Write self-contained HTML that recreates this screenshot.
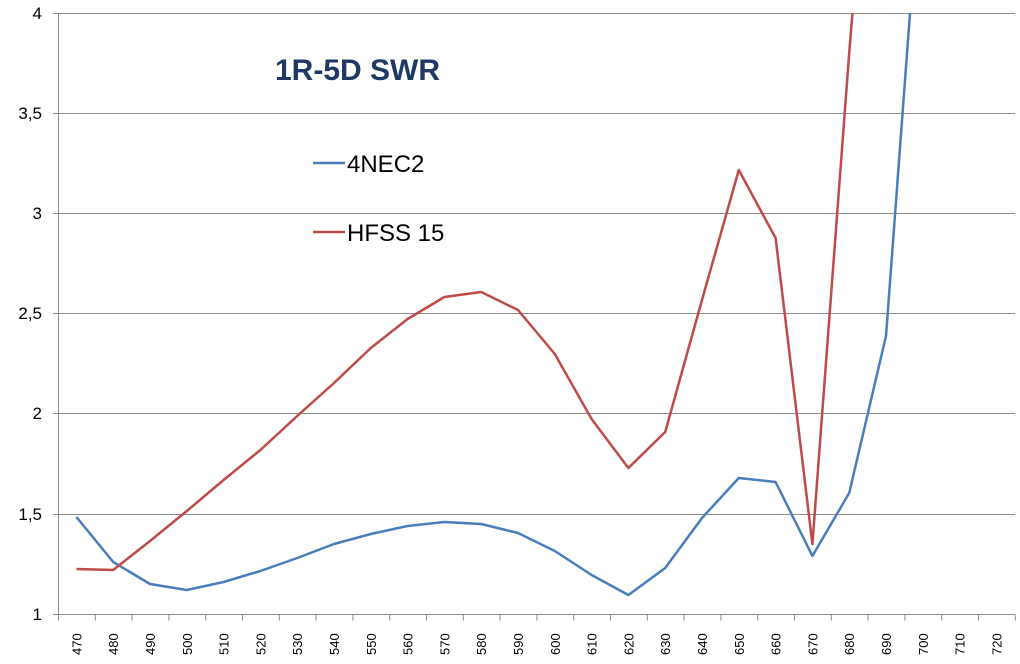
<!DOCTYPE html>
<html><head><meta charset="utf-8"><style>
html,body{margin:0;padding:0;background:#fff;}
svg{display:block;font-family:"Liberation Sans",Calibri,sans-serif;}
</style></head><body>
<svg width="1020" height="664" viewBox="0 0 1020 664">
<defs><clipPath id="c"><rect x="58" y="13" width="960" height="602"/></clipPath></defs>
<g stroke="#8c8c8c" stroke-width="1">
<line x1="58.5" y1="13.5" x2="1015" y2="13.5"/>
<line x1="58.5" y1="113.5" x2="1015" y2="113.5"/>
<line x1="58.5" y1="213.5" x2="1015" y2="213.5"/>
<line x1="58.5" y1="313.5" x2="1015" y2="313.5"/>
<line x1="58.5" y1="413.5" x2="1015" y2="413.5"/>
<line x1="58.5" y1="514.5" x2="1015" y2="514.5"/>
<line x1="58.5" y1="614.5" x2="1015" y2="614.5"/>
<line x1="58.5" y1="13" x2="58.5" y2="614.5"/>
<line x1="53" y1="13.5" x2="58.5" y2="13.5"/><line x1="53" y1="113.5" x2="58.5" y2="113.5"/><line x1="53" y1="213.5" x2="58.5" y2="213.5"/><line x1="53" y1="313.5" x2="58.5" y2="313.5"/><line x1="53" y1="413.5" x2="58.5" y2="413.5"/><line x1="53" y1="514.5" x2="58.5" y2="514.5"/><line x1="53" y1="614.5" x2="58.5" y2="614.5"/>
</g>
<path stroke="#8c8c8c" fill="none" d="M58.5 614.5v6M95.3 614.5v6M132.1 614.5v6M168.9 614.5v6M205.7 614.5v6M242.5 614.5v6M279.3 614.5v6M316.1 614.5v6M352.9 614.5v6M389.7 614.5v6M426.5 614.5v6M463.3 614.5v6M500.1 614.5v6M536.9 614.5v6M573.7 614.5v6M610.5 614.5v6M647.3 614.5v6M684.1 614.5v6M720.9 614.5v6M757.7 614.5v6M794.5 614.5v6M831.3 614.5v6M868.1 614.5v6M904.9 614.5v6M941.7 614.5v6M978.5 614.5v6M1015.3 614.5v6"/>
<g font-size="17" fill="#000" text-anchor="end">
<text x="42" y="19">4</text><text x="42" y="119">3,5</text><text x="42" y="219">3</text><text x="42" y="319">2,5</text><text x="42" y="419">2</text><text x="42" y="520">1,5</text><text x="42" y="620">1</text>
</g>
<g font-size="13" fill="#000">
<text transform="translate(81.4,655) rotate(-90)">470</text>
<text transform="translate(118.2,655) rotate(-90)">480</text>
<text transform="translate(155,655) rotate(-90)">490</text>
<text transform="translate(191.8,655) rotate(-90)">500</text>
<text transform="translate(228.6,655) rotate(-90)">510</text>
<text transform="translate(265.4,655) rotate(-90)">520</text>
<text transform="translate(302.2,655) rotate(-90)">530</text>
<text transform="translate(339,655) rotate(-90)">540</text>
<text transform="translate(375.8,655) rotate(-90)">550</text>
<text transform="translate(412.6,655) rotate(-90)">560</text>
<text transform="translate(449.4,655) rotate(-90)">570</text>
<text transform="translate(486.2,655) rotate(-90)">580</text>
<text transform="translate(523,655) rotate(-90)">590</text>
<text transform="translate(559.8,655) rotate(-90)">600</text>
<text transform="translate(596.6,655) rotate(-90)">610</text>
<text transform="translate(633.4,655) rotate(-90)">620</text>
<text transform="translate(670.2,655) rotate(-90)">630</text>
<text transform="translate(707,655) rotate(-90)">640</text>
<text transform="translate(743.8,655) rotate(-90)">650</text>
<text transform="translate(780.6,655) rotate(-90)">660</text>
<text transform="translate(817.4,655) rotate(-90)">670</text>
<text transform="translate(854.2,655) rotate(-90)">680</text>
<text transform="translate(891,655) rotate(-90)">690</text>
<text transform="translate(927.8,655) rotate(-90)">700</text>
<text transform="translate(964.6,655) rotate(-90)">710</text>
<text transform="translate(1001.4,655) rotate(-90)">720</text>
</g>
<g clip-path="url(#c)" fill="none" stroke-width="2.5" stroke-linejoin="round">
<polyline stroke="#4a7ebb" points="76.4,517 113.2,562 150,584 186.8,590 223.6,582 260.4,571 297.2,558 334,544 370.8,534 407.6,526 444.4,522 481.2,524 518,533 554.8,551 591.6,575 628.4,595 665.2,568 702,518 738.8,478 775.6,482 812.4,556 849.2,493 886,336 922.8,-159"/>
<polyline stroke="#be4b48" points="76.4,569 113.2,570 150,541 186.8,511 223.6,480 260.4,450 297.2,416 334,383 370.8,348 407.6,319 444.4,297 481.2,292 518,310 554.8,354 591.6,419 628.4,468 665.2,432 702,300 738.8,170 775.6,238 812.4,544 849.2,53 886,-400"/>
</g>
<text x="275" y="80" font-size="30" font-weight="bold" fill="#1f3864">1R-5D SWR</text>
<line x1="313" y1="163" x2="345" y2="163" stroke="#4a7ebb" stroke-width="2.5"/>
<text x="347" y="172" font-size="24">4NEC2</text>
<line x1="313" y1="232" x2="345" y2="232" stroke="#be4b48" stroke-width="2.5"/>
<text x="347" y="241" font-size="24">HFSS 15</text>
</svg>
</body></html>
